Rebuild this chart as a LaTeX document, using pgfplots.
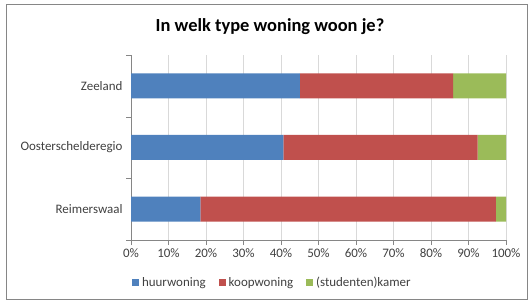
\documentclass[border=0pt]{standalone}
\usepackage{pgfplots}
\pgfplotsset{compat=1.18}
\usepackage{fontspec}
\setmainfont{Carlito}
\definecolor{huur}{HTML}{4F81BD}
\definecolor{koop}{HTML}{C0504D}
\definecolor{kamer}{HTML}{9BBB59}
\definecolor{gridc}{HTML}{D9D9D9}
\definecolor{axc}{HTML}{868686}
\definecolor{txt}{HTML}{404040}
\begin{document}
\begin{tikzpicture}
\useasboundingbox (0bp,0bp) rectangle (528bp,302bp);
\draw[color=axc, line width=1bp] (6bp,2bp) rectangle (527bp,297bp);
\node[font=\bfseries\fontsize{18.5}{22}\selectfont] at (270bp,275bp) {In welk type woning woon je?};
\begin{axis}[
  at={(131bp,62bp)}, anchor=south west,
  scale only axis, width=375bp, height=185bp,
  xbar stacked, bar width=25bp,
  xmin=0, xmax=100, ymin=-0.5, ymax=2.5,
  ytick={0,1,2},
  yticklabels={Reimerswaal,Oosterschelderegio,Zeeland},
  major y tick style={draw=none},
  minor ytick={-0.5,0.5,1.5,2.5},
  minor y tick style={color=axc},
  xtick={0,10,...,100},
  /pgf/number format/assume math mode=true,
  xticklabel={\pgfmathprintnumber{\tick}\%},
  xmajorgrids, grid style={color=gridc, line width=0.8bp},
  axis x line*=bottom, axis y line*=left,
  axis line style={color=axc, line width=0.8bp, -},
  x tick style={color=axc},
  tick align=outside,
  major tick length=5bp, minor tick length=5bp,
  ticklabel style={font=\fontsize{13}{15}\selectfont, color=txt},
  legend style={at={(0.377,-0.232)}, anchor=center, draw=none, fill=none,
    legend columns=-1, font=\fontsize{13}{15}\selectfont, text=txt,
    /tikz/every odd column/.append style={column sep=1bp}},
  legend image code/.code={\fill[#1] (0bp,-3.5bp) rectangle (7bp,3.5bp);},
]
\addplot[fill=huur, draw=none] coordinates {(18.5,0) (40.6,1) (45.0,2)};
\addplot[fill=koop, draw=none] coordinates {(78.8,0) (51.8,1) (40.9,2)};
\addplot[fill=kamer, draw=none] coordinates {(2.7,0) (7.6,1) (14.1,2)};
\legend{huurwoning\rule{11bp}{0pt},koopwoning\rule{11bp}{0pt},(studenten)kamer}
\end{axis}
\end{tikzpicture}
\end{document}
